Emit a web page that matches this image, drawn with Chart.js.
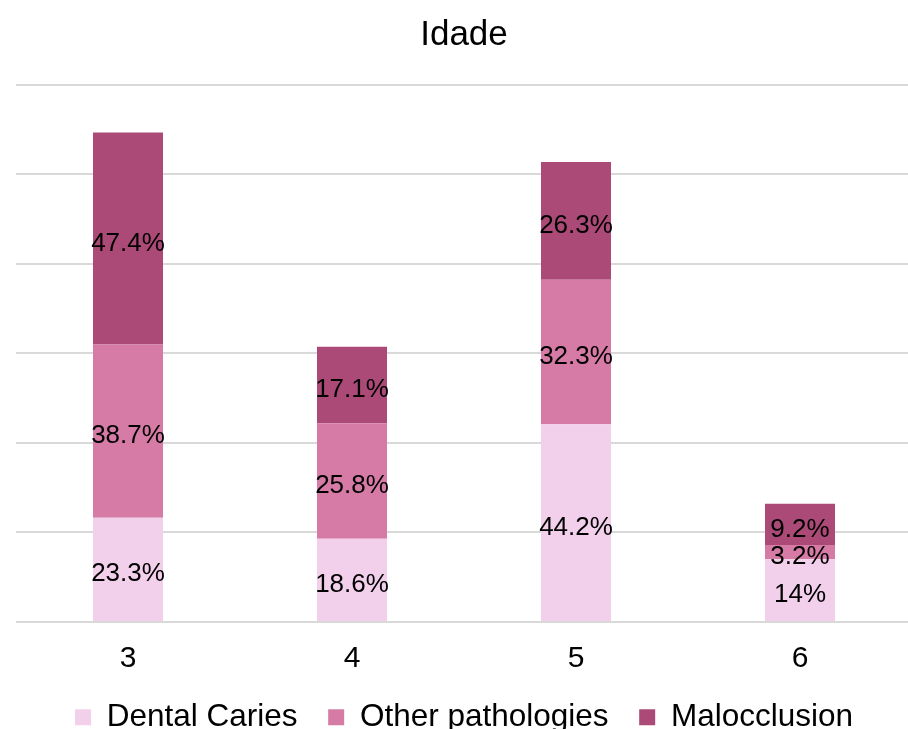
<!DOCTYPE html>
<html>
<head>
<meta charset="utf-8">
<title>Idade</title>
<script src="https://cdn.jsdelivr.net/npm/chart.js@4"></script>
<style>
  html, body { margin: 0; padding: 0; overflow: hidden; background: #fff; }
  #wrap { position: relative; width: 912px; height: 743px; }
</style>
</head>
<body>
<div id="wrap"><canvas id="idade-chart"></canvas></div>
<script>
const ageLabels = ['3', '4', '5', '6'];
const dentalCaries = [23.3, 18.6, 44.2, 14];
const otherPathologies = [38.7, 25.8, 32.3, 3.2];
const malocclusion = [47.4, 17.1, 26.3, 9.2];

const fontFamily = '"Liberation Sans", Arial, sans-serif';

// draws the percentage in the middle of every stacked segment
const segmentLabels = {
  id: 'segmentLabels',
  afterDatasetsDraw(chart) {
    const ctx = chart.ctx;
    ctx.save();
    ctx.font = '26px ' + fontFamily;
    ctx.fillStyle = '#000';
    ctx.textAlign = 'center';
    ctx.textBaseline = 'middle';
    chart.data.datasets.forEach((ds, i) => {
      chart.getDatasetMeta(i).data.forEach((bar, j) => {
        const { x, y, base } = bar.getProps(['x', 'y', 'base'], true);
        ctx.fillText(ds.data[j] + '%', x, (y + base) / 2 + 5);
      });
    });
    ctx.restore();
  }
};

const data = {
  labels: ageLabels,
  datasets: [
    { label: 'Dental Caries', data: dentalCaries, backgroundColor: 'rgb(242, 208, 235)' },
    { label: 'Other pathologies', data: otherPathologies, backgroundColor: 'rgb(214, 123, 166)' },
    { label: 'Malocclusion', data: malocclusion, backgroundColor: 'rgb(171, 74, 119)' }
  ]
};

data.datasets.forEach(ds => {
  ds.borderWidth = 0;
  ds.barPercentage = 0.3125;
  ds.categoryPercentage = 1;
});

const config = {
  type: 'bar',
  data: data,
  plugins: [segmentLabels],
  options: {
    responsive: true,
    maintainAspectRatio: false,
    animation: false,
    layout: {
      padding: { left: 16, right: 0, top: 0, bottom: 0 }
    },
    plugins: {
      title: {
        display: true,
        text: 'Idade',
        color: '#000',
        font: { family: fontFamily, size: 35, weight: 'normal', lineHeight: 1.2 },
        padding: { top: 14, bottom: 29 }
      },
      legend: {
        position: 'bottom',
        labels: {
          color: '#000',
          font: { family: fontFamily, size: 31.5 },
          boxWidth: 16,
          boxHeight: 16,
          padding: 30.6
        }
      },
      tooltip: { enabled: false }
    },
    scales: {
      x: {
        stacked: true,
        grid: { display: false, drawTicks: false },
        border: { display: false },
        ticks: {
          color: '#000',
          font: { family: fontFamily, size: 30, lineHeight: '34px' },
          padding: 20
        },
        // keep the gap between the tick labels and the legend tight
        afterFit: scale => { scale.height = 49; }
      },
      y: {
        stacked: true,
        min: 0,
        max: 120,
        grid: { color: '#d9d9d9', lineWidth: 2, drawTicks: false },
        border: { display: false },
        ticks: { display: false, stepSize: 20 }
      }
    }
  }
};

document.addEventListener('DOMContentLoaded', function() {
  const ctx = document.getElementById('idade-chart').getContext('2d');
  new Chart(ctx, config);
});
</script>
</body>
</html>
